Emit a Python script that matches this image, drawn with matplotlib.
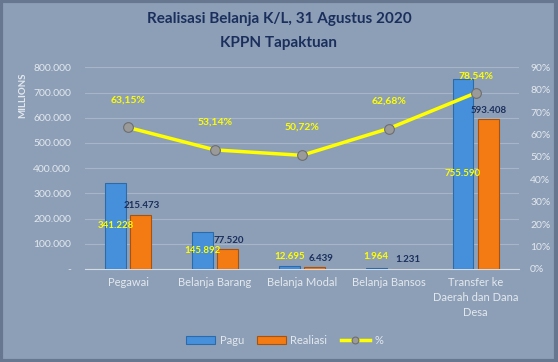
import numpy as np
import matplotlib.pyplot as plt
from matplotlib.patches import Rectangle
from matplotlib.ticker import FuncFormatter, MultipleLocator

categories = ["Pegawai", "Belanja Barang", "Belanja Modal", "Belanja Bansos",
              "Transfer ke\nDaerah dan Dana\nDesa"]
pagu = [341228, 145892, 12695, 1964, 755590]
realisasi = [215473, 77520, 6439, 1231, 593408]
persen = [63.15, 53.14, 50.72, 62.68, 78.54]

BG = "#8d9fb7"
LIGHT = "#e3e8ee"
NAVY = "#1a2f5c"
YELLOW = "#ffff00"

plt.rcParams['font.family'] = ['Lato', 'DejaVu Sans']


def fmt_thousands(v):
    if v == 0:
        return "-"
    return f"{int(round(v)):,}".replace(",", ".")


fig = plt.figure(figsize=(5.58, 3.62), dpi=100, facecolor=BG)
fig.patches.append(Rectangle((0.002, 0.003), 0.994, 0.994, transform=fig.transFigure,
                             fill=False, edgecolor="#66778f", lw=3))

ax = fig.add_axes([0.152, 0.257, 0.778, 0.557])
ax.set_facecolor(BG)
ax2 = ax.twinx()

x = np.arange(len(categories))
w = 0.24
gap = 0.025
b1 = ax.bar(x - w / 2 - gap, pagu, w, color="#4690db", edgecolor="#2d6aa8", lw=0.8, zorder=3)
b2 = ax.bar(x + w / 2 + gap, realisasi, w, color="#f47b14", edgecolor="#a9520b", lw=0.8, zorder=3)

ax.set_ylim(0, 800000)
ax.set_xlim(-0.5, len(categories) - 0.5)
ax.yaxis.set_major_locator(MultipleLocator(100000))
ax.yaxis.set_major_formatter(FuncFormatter(lambda v, p: fmt_thousands(v)))
ax.grid(axis="y", color="#a8b5c7", lw=0.8, zorder=0)
ax.set_axisbelow(True)
for s in ["top", "right", "left"]:
    ax.spines[s].set_visible(False)
    ax2.spines[s].set_visible(False)
ax.spines["bottom"].set_color("#d5dbe4")
ax2.spines["bottom"].set_visible(False)
ax.tick_params(axis="y", length=0, colors=LIGHT, labelsize=7.5, pad=10)
ax.tick_params(axis="x", length=0, colors=LIGHT, labelsize=8, pad=6)
ax.set_xticks(x)
ax.set_xticklabels(categories, linespacing=1.45)
ax.set_ylabel("MILLIONS", color=LIGHT, fontsize=7, fontweight="bold", labelpad=4)
ax.yaxis.set_label_coords(-0.132, 0.86)

# labels for Pagu (yellow, in the bar) and Realisasi (navy, above the bar)
for xi, v in zip(x - w / 2 - gap, pagu):
    ax.text(xi, max(v / 2, 48000), fmt_thousands(v), ha="center", va="center",
            color=YELLOW, fontsize=7, fontweight="bold", zorder=5)
for xi, v in zip(x + w / 2 + gap, realisasi):
    dx = 0.08 if v < 50000 else 0.01
    ax.text(xi + dx, v + 18000, fmt_thousands(v), ha="center", va="bottom",
            color=NAVY, fontsize=7, fontweight="bold", zorder=5)

ax2.set_ylim(0, 0.9)
ax2.yaxis.set_major_locator(MultipleLocator(0.1))
ax2.yaxis.set_major_formatter(FuncFormatter(lambda v, p: f"{v * 100:.0f}%"))
ax2.tick_params(axis="y", length=0, colors=LIGHT, labelsize=7.5, pad=8)
pct = np.array(persen) / 100
ln, = ax2.plot(x, pct, color=YELLOW, lw=2.5, marker="o", ms=7,
               mfc="#9a9a9a", mec="#6e6e6e", mew=0.8, zorder=6)
offsets = [20, 20, 20, 20, 12]
for xi, p, off in zip(x, persen, offsets):
    ax2.annotate(f"{p:.2f}%".replace(".", ","), (xi, p / 100), xytext=(0, off),
                 textcoords="offset points", ha="center", va="center",
                 color=YELLOW, fontsize=7.5, fontweight="bold", zorder=7)

fig.text(0.5, 0.947, "Realisasi Belanja K/L, 31 Agustus 2020", ha="center", va="center",
         color=NAVY, fontsize=11, fontweight="bold")
fig.text(0.5, 0.88, "KPPN Tapaktuan", ha="center", va="center",
         color=NAVY, fontsize=11, fontweight="bold")

leg = fig.legend([b1, b2, ln], ["Pagu", "Realiasi", "%"], loc="center",
                 bbox_to_anchor=(0.51, 0.06), ncol=3, frameon=False,
                 fontsize=8, handlelength=2.6, columnspacing=1.2, handletextpad=0.4,
                 markerscale=0.7)
for t in leg.get_texts():
    t.set_color(LIGHT)

fig.savefig("out.png", dpi=100, facecolor=BG)
